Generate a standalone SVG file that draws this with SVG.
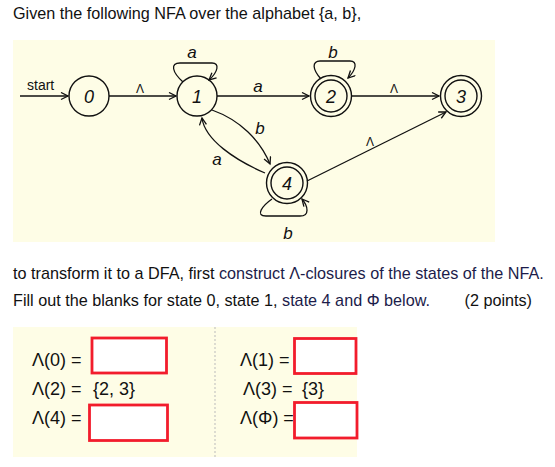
<svg xmlns="http://www.w3.org/2000/svg" width="555" height="467" viewBox="0 0 555 467">
<defs>
<marker id="arr" markerWidth="10" markerHeight="10" refX="8" refY="4" orient="auto" markerUnits="userSpaceOnUse">
<path d="M1,0.5 L8,4 L1,7.5" fill="none" stroke="#111" stroke-width="1.3"/>
</marker>
</defs>
<style>
text{font-family:"Liberation Sans",Arial,sans-serif;fill:#111}
.t{font-size:16.2px}
.nav{fill:#1c1c4a}
.st{fill:none;stroke:#111;stroke-width:1.4}
.lbl{font-size:17px;font-style:italic;text-anchor:middle}
.lam{font-size:12px;text-anchor:middle}
.num{font-size:18px;font-style:italic;text-anchor:middle}
.e{fill:none;stroke:#111;stroke-width:1.3;marker-end:url(#arr)}
.box{fill:#fff;stroke:#f21c2c;stroke-width:2.8}
.eq{font-size:18px}
</style>
<rect width="555" height="467" fill="#fff"/>
<text class="t" x="13" y="19">Given the following NFA over the alphabet {a, b},</text>
<rect x="13" y="40" width="482" height="202" fill="#fefde6"/>
<g id="connectors">
<path class="e" d="M20,96 L68,96"/>
<path class="e" d="M109,96 L176,96"/>
<path class="e" d="M183,82 C172,72 170,63 180,63 L212,63 C220,63 218,72 209,80"/>
<path class="e" d="M217,96 L309,96"/>
<path class="e" d="M321,79 C312,69 312,61 320,61 L350,61 C358,61 356,70 348,78"/>
<path class="e" d="M352,96 L439,96"/>
<path class="e" d="M212,110 C240,120 260,140 270,164"/>
<path class="e" d="M265,173 C235,160 205,140 202,118"/>
<path class="e" d="M307,181 L446,112"/>
<path class="e" d="M272,199 C262,206 255,216 266,216 L300,216 C310,216 308,206 302,199"/>
<text x="27" y="90" style="font-size:14px">start</text>
<text class="lam" x="140" y="93">Λ</text>
<text class="lbl" x="192" y="58">a</text>
<text class="lbl" x="258" y="92">a</text>
<text class="lbl" x="333" y="58">b</text>
<text class="lam" x="394" y="93">Λ</text>
<text class="lam" x="370" y="146">Λ</text>
<text class="lbl" x="260" y="134">b</text>
<text class="lbl" x="217" y="165">a</text>
<text class="lbl" x="288" y="239">b</text>
</g>
<g id="n0"><circle class="st" cx="89" cy="96" r="20"/><text class="num" x="89" y="103">0</text></g>
<g id="n1"><circle class="st" cx="197" cy="96" r="20"/><text class="num" x="197" y="103">1</text></g>
<g id="n2"><circle class="st" cx="331" cy="96" r="20.5"/><circle class="st" cx="331" cy="96" r="16"/><text class="num" x="331" y="103">2</text></g>
<g id="n3"><circle class="st" cx="461" cy="96" r="20.5"/><circle class="st" cx="461" cy="96" r="16"/><text class="num" x="461" y="103">3</text></g>
<g id="n4"><circle class="st" cx="287" cy="183" r="20.5"/><circle class="st" cx="287" cy="183" r="16"/><text class="num" x="287" y="190">4</text></g>
<text class="t" x="13" y="279">to transform it to a DFA, first <tspan class="nav">construct Λ-closures of the states of the NFA.</tspan></text>
<text class="t" x="13" y="306">Fill out the blanks for state 0, state 1, <tspan class="nav">state 4 and Φ below.</tspan></text>
<text class="t" x="532" y="306" text-anchor="end">(2 points)</text>
<rect x="13" y="327" width="344" height="130" fill="#fefde6"/>
<line x1="215" y1="327" x2="215" y2="457" stroke="#bbb" stroke-dasharray="2,2"/>
<text class="eq" x="32" y="366">Λ(0) =</text>
<rect class="box" x="92" y="338" width="74.5" height="35"/>
<text class="eq" x="32" y="395">Λ(2) =<tspan x="93">{2, 3}</tspan></text>
<text class="eq" x="32" y="424">Λ(4) =</text>
<rect class="box" x="89.5" y="405" width="78" height="35.5"/>
<text class="eq" x="240" y="366">Λ(1) =</text>
<rect class="box" x="294.5" y="338.5" width="61.5" height="35"/>
<text class="eq" x="243" y="395">Λ(3) =<tspan x="302">{3}</tspan></text>
<text class="eq" x="240" y="424">Λ(Φ) =</text>
<rect class="box" x="294.5" y="402.5" width="62.5" height="35.5"/>
</svg>
